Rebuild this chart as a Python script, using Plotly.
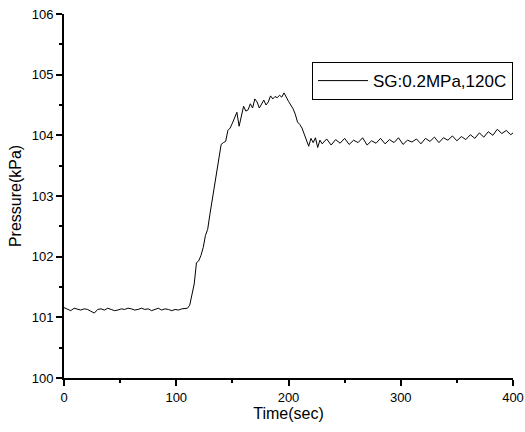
import plotly.graph_objects as go

time_sec = [0, 3, 6, 9, 12, 15, 18, 21, 24, 27, 30, 33, 36, 39, 42, 45, 48, 51, 54, 57,
            60, 63, 66, 69, 72, 75, 78, 81, 84, 87, 90, 93, 96, 99, 102, 105, 108,
            110, 112, 114, 116, 118, 120, 122, 124, 126, 128, 130, 132, 134, 136, 138,
            140, 142, 144, 146, 148, 150, 152, 154, 156, 158, 160, 162, 164, 166, 168,
            170, 172, 174, 176, 178, 180, 182, 184, 186, 188, 190, 192, 194, 196, 198,
            200, 202, 204, 206, 208, 210, 212, 214, 216, 218, 220, 222, 224, 226, 228,
            230, 234, 238, 242, 246, 250, 254, 258, 262, 266, 270, 274, 278, 282, 286,
            290, 294, 298, 302, 306, 310, 314, 318, 322, 326, 330, 334, 338, 342, 346,
            350, 354, 358, 362, 366, 370, 374, 378, 382, 386, 390, 394, 398, 400]

pressure_kpa = [101.16, 101.14, 101.11, 101.15, 101.13, 101.12, 101.14, 101.13, 101.10, 101.07,
                101.13, 101.14, 101.12, 101.15, 101.13, 101.11, 101.12, 101.14, 101.13, 101.15,
                101.14, 101.12, 101.13, 101.15, 101.13, 101.14, 101.11, 101.13, 101.15, 101.12,
                101.14, 101.13, 101.11, 101.13, 101.12, 101.14, 101.14,
                101.15, 101.20, 101.35, 101.55, 101.90, 101.93, 102.02, 102.15, 102.35, 102.45,
                102.70, 102.92, 103.15, 103.42, 103.62,
                103.85, 103.88, 103.90, 104.08, 104.12, 104.20, 104.28, 104.38, 104.15, 104.30,
                104.48, 104.40, 104.42, 104.52, 104.45,
                104.60, 104.55, 104.45, 104.52, 104.58, 104.50, 104.55, 104.65, 104.60, 104.64,
                104.62, 104.66, 104.63, 104.70, 104.62,
                104.56, 104.50, 104.44, 104.35, 104.22, 104.18, 104.12, 104.02, 103.92, 103.82,
                103.95, 103.88, 103.96, 103.80, 103.92,
                103.86, 103.94, 103.84, 103.93, 103.87, 103.95, 103.85, 103.92, 103.88, 103.96,
                103.84, 103.91, 103.87, 103.95, 103.86,
                103.93, 103.88, 103.96, 103.85, 103.92, 103.89, 103.94, 103.86, 103.95, 103.90,
                103.97, 103.88, 103.96, 103.92, 103.99,
                103.91, 103.98, 103.93, 104.01, 103.95, 104.04, 103.97, 104.06, 104.00, 104.10,
                104.03, 104.08, 104.01, 104.04]

FONT = "Liberation Sans, Arial, sans-serif"
tick_font = dict(family=FONT, size=13, color="black")
title_font = dict(family=FONT, size=16, color="black")

fig = go.Figure()
fig.add_trace(go.Scatter(
    x=time_sec, y=pressure_kpa, mode="lines",
    line=dict(color="black", width=1),
    name="SG:0.2MPa,120C",
))

fig.update_layout(
    width=525, height=432,
    margin=dict(l=64, r=12, t=14, b=54, autoexpand=False),
    paper_bgcolor="white", plot_bgcolor="white",
    font=tick_font,
    showlegend=True,
    legend=dict(
        x=1.0, y=0.868, xanchor="right", yanchor="top",
        bordercolor="black", borderwidth=1, bgcolor="white",
        font=dict(family=FONT, size=17, color="black"),
        itemwidth=50, tracegroupgap=0,
    ),
)

fig.update_xaxes(
    range=[0, 400], tickvals=[0, 100, 200, 300, 400],
    showgrid=False, zeroline=False, automargin=False,
    showline=True, linecolor="black", linewidth=2, mirror=False,
    ticks="outside", ticklen=6, tickwidth=1.5, tickcolor="black",
    minor=dict(tickvals=[50, 150, 250, 350], ticks="outside", ticklen=3, tickcolor="black"),
    tickfont=tick_font,
    title=dict(text="Time(sec)", font=title_font, standoff=3),
)
fig.update_yaxes(
    range=[100, 106], tickvals=[100, 101, 102, 103, 104, 105, 106],
    showgrid=False, zeroline=False, automargin=False,
    showline=True, linecolor="black", linewidth=2, mirror=False,
    ticks="outside", ticklen=6, tickwidth=1.5, tickcolor="black",
    minor=dict(tickvals=[100.5, 101.5, 102.5, 103.5, 104.5, 105.5], ticks="outside", ticklen=3, tickcolor="black"),
    tickfont=tick_font,
    title=dict(text="Pressure(kPa)", font=title_font, standoff=6),
)

fig.write_html("out.html", config={"displayModeBar": False},
               post_script="document.body.style.margin='0';")
